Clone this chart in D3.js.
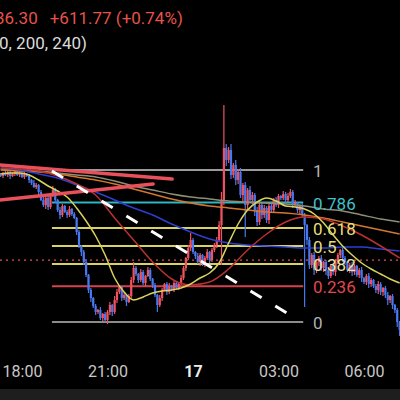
<!DOCTYPE html>
<html>
<head>
<meta charset="utf-8">
<script src="https://cdn.jsdelivr.net/npm/d3@7"></script>
<style>
html, body { margin: 0; padding: 0; background: #000; }
svg { display: block; }
text { font-family: Roboto, "Noto Sans", sans-serif; }
</style>
</head>
<body>
<script>
const W = 400;
const H = 400;

// 5 minute candles, first one at 16 Mar 17:15
const startTime = new Date(2025, 2, 16, 17, 15);
const endTime = new Date(2025, 2, 17, 7, 15);
const firstOpen = 84940;
const closes = [
    84920, 84980, 84940, 85000, 84920, 84960, 85020, 84940, 84980, 84900,
    84960, 84920, 84840, 84780, 84700, 84740, 84600, 84440, 84340, 84480,
    84300, 84520, 84640, 84440, 84240, 84140, 84320, 84200, 84140, 84260,
    84160, 84080, 83800, 83520, 83400, 83200, 82940, 82640, 82480, 82320,
    82200, 82240, 82080, 82160, 82040, 82200, 82340, 82200, 82440, 82600,
    82700, 82480, 82540, 82400, 82520, 82840, 83080, 82960, 82840, 83000,
    82780, 82920, 83040, 82860, 82740, 82540, 82340, 82480, 82640, 82760,
    82600, 82720, 82660, 82780, 82680, 82760, 82880, 83080, 83280, 83480,
    83640, 83400, 83320, 83200, 83340, 83160, 83280, 83400, 83240, 83440,
    83540, 83640, 83940, 84440, 85480, 85240, 85440, 84940, 85140, 84840,
    85000, 84540, 84740, 84340, 84640, 84440, 84540, 84240, 84000, 84340,
    84140, 84280, 84040, 84320, 84240, 84440, 84340, 84520, 84480, 84560,
    84440, 84520, 84600, 84340, 84380, 84240, 84320, 84140, 83940, 83640,
    83140, 83340, 83040, 83200, 83280, 83080, 83200, 83040, 82920, 83120,
    83000, 83200, 83340, 83440, 83280, 83200, 83040, 83140, 83000, 83120,
    82940, 83040, 82880, 82800, 82920, 82760, 82840, 82720, 82640, 82760,
    82600, 82680, 82540, 82440, 82520, 82340, 82240, 82000, 81840
];
const upWicks = [
    40, 20, 40, 60, 20, 40, 40, 20, 60, 20,
    40, 20, 40, 20, 60, 40, 20, 40, 60, 20,
    40, 40, 80, 40, 20, 60, 40, 20, 40, 60,
    20, 40, 20, 40, 20, 40, 60, 20, 40, 20,
    40, 20, 60, 20, 40, 40, 60, 20, 80, 60,
    40, 20, 60, 20, 40, 60, 120, 40, 20, 60,
    40, 20, 60, 40, 20, 40, 20, 60, 40, 20,
    40, 60, 20, 40, 20, 40, 60, 40, 20, 60,
    140, 40, 20, 60, 40, 20, 40, 60, 20, 40,
    40, 60, 80, 160, 860, 80, 60, 120, 40, 100,
    60, 80, 40, 60, 40, 80, 60, 40, 60, 80,
    40, 60, 40, 60, 80, 40, 60, 40, 20, 60,
    40, 60, 60, 40, 60, 20, 40, 60, 40, 20,
    60, 40, 60, 20, 40, 60, 20, 40, 60, 20,
    40, 60, 40, 20, 60, 40, 20, 40, 60, 40,
    20, 40, 60, 20, 40, 60, 40, 20, 40, 60,
    40, 20, 40, 60, 20, 40, 20, 40, 20
];
const downWicks = [
    20, 40, 20, 40, 60, 20, 40, 20, 40, 20,
    40, 20, 60, 40, 20, 40, 60, 20, 40, 80,
    60, 40, 20, 60, 40, 80, 40, 20, 60, 40,
    40, 20, 60, 40, 80, 60, 40, 60, 80, 40,
    60, 40, 40, 60, 40, 80, 60, 80, 40, 60,
    40, 60, 40, 80, 20, 40, 60, 40, 60, 40,
    40, 60, 20, 40, 60, 40, 140, 40, 60, 20,
    60, 40, 40, 60, 20, 40, 20, 40, 60, 40,
    60, 40, 60, 40, 80, 40, 60, 40, 60, 40,
    40, 60, 40, 800, 100, 120, 60, 80, 60, 100,
    80, 60, 120, 640, 80, 60, 80, 120, 80, 60,
    80, 60, 60, 80, 40, 60, 40, 60, 40, 40,
    60, 40, 40, 60, 40, 60, 80, 40, 1640, 100,
    80, 60, 100, 60, 80, 60, 80, 100, 60, 40,
    60, 80, 40, 60, 80, 60, 40, 60, 80, 60,
    40, 60, 80, 40, 60, 80, 60, 40, 60, 80,
    60, 80, 60, 100, 60, 80, 60, 100, 120
];

// moving averages, read every 4th / 8th candle
const maYellow = [
    84960, 84980, 84980, 84940, 84840, 84720, 84620, 84500, 84280, 84020,
    83720, 83340, 82880, 82600, 82440, 82500, 82580, 82620, 82640, 82680,
    82760, 82880, 82980, 83180, 83580, 83960, 84240, 84400, 84480, 84420,
    84320, 84300, 84260, 84160, 83980, 83740, 83520, 83340, 83180, 83060,
    82960, 82860, 82780
];
const maRed = [
    85080, 85060, 85020, 84920, 84760, 84540, 84080, 83640, 83200, 82860, 82740,
    82800, 83060, 83440, 83760, 84000, 84100, 84060, 83920, 83740, 83520, 83280
];
const maBlue = [
    85080, 85040, 84960, 84880, 84740, 84600, 84440, 84280, 84140, 83960, 83800,
    83660, 83580, 83540, 83520, 83500, 83480, 83480, 83500, 83500, 83460, 83420
];
const maOrange = [
    85040, 85020, 85000, 84960, 84900, 84840, 84760, 84660, 84560, 84460, 84380,
    84320, 84280, 84240, 84200, 84180, 84140, 84080, 84000, 83920, 83840, 83760
];
const maOlive = [
    85060, 85040, 85020, 84980, 84940, 84900, 84820, 84720, 84640, 84560, 84500,
    84460, 84420, 84400, 84380, 84360, 84320, 84260, 84220, 84140, 84060, 84000
];

// fibonacci retracement
const fibLow = 82000;
const fibHigh = 85040;
const fibStart = new Date(2025, 2, 16, 19, 3);
const fibEnd = new Date(2025, 2, 17, 3, 52);
const fibRatios = [1, 0.786, 0.618, 0.5, 0.382, 0.236, 0];
const fibLabels = ['1', '0.786', '0.618', '0.5', '0.382', '0.236', '0'];
const fibColors = ['#9a9a9a', '#2fb6c3', '#d8d264', '#d8d264', '#d8d264', '#d6434f', '#8c8c8c'];
const fibTextColors = ['#b4b4b4', '#3fc2cc', '#e6df78', '#e6df78', '#e9e5a4', '#e0474f', '#b0b0b0'];

// drawn lines (time, price)
const trendLines = [
    [new Date(2025, 2, 16, 17, 13), 85140, new Date(2025, 2, 16, 23, 16), 84860],
    [new Date(2025, 2, 16, 17, 13), 84440, new Date(2025, 2, 16, 22, 36), 84760]
];
const dashLine = [new Date(2025, 2, 16, 19, 3), 85020, new Date(2025, 2, 17, 3, 28), 82120];

const lastPrice = 83236.30;
const change = 611.77;
const changePct = 0.74;
const maTitle = 'MA(5, 10, 20, 60, 120, 200, 240)';
const tickTimes = [
    new Date(2025, 2, 16, 18, 0), new Date(2025, 2, 16, 21, 0), new Date(2025, 2, 17, 0, 0),
    new Date(2025, 2, 17, 3, 0), new Date(2025, 2, 17, 6, 0)
];

const candleTime = (i) => new Date(startTime.getTime() + i * 5 * 60000);

const candles = closes.map((c, i) => {
    const o = i === 0 ? firstOpen : closes[i - 1];
    return {
        t: candleTime(i),
        o,
        c,
        h: Math.max(o, c) + upWicks[i],
        l: Math.min(o, c) - downWicks[i]
    };
});

const x = d3.scaleTime().domain([startTime, endTime]).range([0.625, 399.625]);
const y = d3.scaleLinear().domain([fibLow, fibHigh]).range([322, 170]);

const svg = d3.select('body').append('svg')
    .attr('width', W)
    .attr('height', H)
    .style('background', '#000');

// fib levels
const fib = svg.append('g');
fibRatios.forEach((r, i) => {
    const py = y(fibLow + r * (fibHigh - fibLow));
    fib.append('line')
        .attr('x1', x(fibStart))
        .attr('x2', x(fibEnd))
        .attr('y1', py)
        .attr('y2', py)
        .attr('stroke', fibColors[i])
        .attr('stroke-width', 2);
});

// current price
svg.append('line')
    .attr('x1', 0)
    .attr('x2', W)
    .attr('y1', y(lastPrice))
    .attr('y2', y(lastPrice))
    .attr('stroke', '#e0505a')
    .attr('stroke-width', 1.2)
    .attr('stroke-dasharray', '2,4');

// candles
const up = '#ef5361';
const down = '#4a78ee';
const cg = svg.append('g');
cg.selectAll('.wick')
    .data(candles)
    .enter()
    .append('line')
    .attr('class', 'wick')
    .attr('x1', (d) => x(d.t))
    .attr('x2', (d) => x(d.t))
    .attr('y1', (d) => y(d.h))
    .attr('y2', (d) => y(d.l))
    .attr('stroke', (d) => (d.c >= d.o ? up : down))
    .attr('stroke-width', 1.2);
cg.selectAll('.body')
    .data(candles)
    .enter()
    .append('rect')
    .attr('class', 'body')
    .attr('x', (d) => x(d.t) - 1.1)
    .attr('width', 2.2)
    .attr('y', (d) => y(Math.max(d.o, d.c)))
    .attr('height', (d) => Math.max(1, Math.abs(y(d.o) - y(d.c))))
    .attr('fill', (d) => (d.c >= d.o ? up : down));

// moving averages
const maSeries = [
    { values: maOlive, step: 8, color: '#8d8f74' },
    { values: maOrange, step: 8, color: '#d5782e' },
    { values: maBlue, step: 8, color: '#2c3fd0' },
    { values: maRed, step: 8, color: '#b8322e' },
    { values: maYellow, step: 4, color: '#d9d25c' }
];
const maLine = d3.line()
    .x((d) => x(d.t))
    .y((d) => y(d.v))
    .curve(d3.curveMonotoneX);
maSeries.forEach((s) => {
    svg.append('path')
        .datum(s.values.map((v, k) => ({ t: candleTime(k * s.step), v })))
        .attr('d', maLine)
        .attr('fill', 'none')
        .attr('stroke', s.color)
        .attr('stroke-width', 1.5);
});

// trend lines
trendLines.forEach((l) => {
    svg.append('line')
        .attr('x1', x(l[0]))
        .attr('y1', y(l[1]))
        .attr('x2', x(l[2]))
        .attr('y2', y(l[3]))
        .attr('stroke', '#e8505c')
        .attr('stroke-width', 3.5)
        .attr('stroke-linecap', 'round');
});

svg.append('line')
    .attr('x1', x(dashLine[0]))
    .attr('y1', y(dashLine[1]))
    .attr('x2', x(dashLine[2]))
    .attr('y2', y(dashLine[3]))
    .attr('stroke', '#fff')
    .attr('stroke-width', 3)
    .attr('stroke-dasharray', '13,16');

// fib labels
fibRatios.forEach((r, i) => {
    svg.append('text')
        .attr('x', 313)
        .attr('y', y(fibLow + r * (fibHigh - fibLow)) + 1)
        .attr('dominant-baseline', 'central')
        .attr('font-size', 17)
        .attr('fill', fibTextColors[i])
        .text(fibLabels[i]);
});

// time axis
const axis = d3.axisBottom(x)
    .tickValues(tickTimes)
    .tickSize(0)
    .tickFormat((d) => (d.getHours() === 0 ? String(d.getDate()) : d3.timeFormat('%H:%M')(d)));
const ax = svg.append('g')
    .attr('transform', 'translate(0,377)')
    .call(axis);
ax.select('.domain').remove();
ax.selectAll('text')
    .attr('y', 0)
    .attr('dy', 0)
    .attr('font-size', 16)
    .attr('font-family', 'Roboto, sans-serif')
    .attr('fill', '#c8c8c8')
    .filter((d) => d.getHours() === 0)
    .attr('font-weight', 'bold')
    .attr('fill', '#ececec');

svg.append('rect')
    .attr('x', 0)
    .attr('y', 389)
    .attr('width', W)
    .attr('height', H - 389)
    .attr('fill', '#1e1e1e');

// header, scrolled off to the left
const priceStr = d3.format(',.2f')(lastPrice);
const measure = (str, size) => {
    const t = svg.append('text').attr('font-size', size).text(str);
    const w = t.node().getComputedTextLength();
    t.remove();
    return w;
};
const head = svg.append('text')
    .attr('x', -measure(priceStr.slice(0, 4), 17) - 5)
    .attr('y', 24)
    .attr('font-size', 17)
    .attr('fill', '#e5534b');
head.append('tspan').text(priceStr);
head.append('tspan')
    .attr('dx', 12)
    .text('+' + change.toFixed(2) + ' (+' + changePct.toFixed(2) + '%)');

svg.append('text')
    .attr('x', -measure(maTitle.slice(0, maTitle.indexOf('0, 200')), 17) - 1)
    .attr('y', 49)
    .attr('font-size', 17)
    .attr('fill', '#dcdcdc')
    .text(maTitle);
</script>
</body>
</html>
